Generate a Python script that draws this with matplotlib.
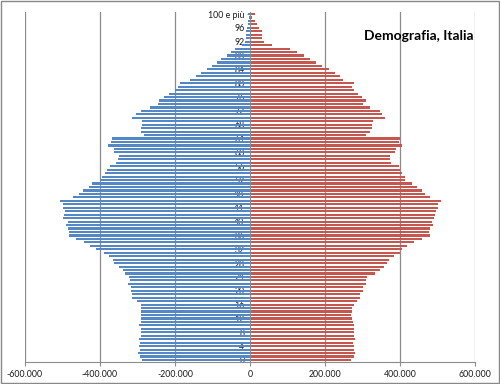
import matplotlib
matplotlib.use("Agg")
import matplotlib.pyplot as plt
from matplotlib.patches import Rectangle
from matplotlib.ticker import FuncFormatter
import numpy as np

ages = list(range(101))

# male population by age 0..100 (drawn as negative)
males = [287, 293, 298, 294, 295, 293, 295, 291, 292, 292,
         296, 291, 290, 291, 290, 291, 292, 301, 315, 315,
         317, 317, 325, 320, 323, 333, 340, 350, 362, 365,
         376, 390, 412, 426, 444, 465, 484, 482, 486, 490,
         485, 499, 495, 493, 499, 500, 506, 471, 455, 445,
         429, 421, 399, 395, 388, 381, 373, 358, 352, 350,
         362, 364, 380, 371, 369, 284, 291, 291, 289, 288,
         315, 305, 292, 266, 245, 243, 230, 217, 201, 192,
         188, 161, 145, 132, 116, 101, 87, 77, 62, 52,
         41, 21, 14, 12, 12, 10, 8, 6, 5, 3, 5]
# female population by age 0..100
females = [268, 276, 281, 277, 277, 275, 279, 276, 276, 276,
           277, 275, 273, 270, 272, 273, 276, 284, 294, 292,
           301, 301, 310, 308, 313, 332, 346, 356, 364, 371,
           385, 399, 404, 418, 437, 458, 479, 477, 479, 488,
           484, 491, 493, 497, 500, 502, 508, 479, 466, 458,
           444, 433, 412, 412, 405, 399, 396, 376, 372, 372,
           386, 388, 406, 396, 399, 310, 319, 326, 326, 328,
           361, 353, 346, 319, 302, 308, 298, 288, 278, 273,
           278, 249, 239, 226, 210, 192, 177, 161, 143, 124,
           106, 58, 36, 31, 31, 31, 25, 19, 12, 6, 12]
males = [-v * 1000 for v in males]
females = [v * 1000 for v in females]

ytick_ages = list(range(0, 97, 4)) + [100]
ytick_labels = [str(a) for a in range(0, 97, 4)] + ["100 e più"]
xticks = [-600000, -400000, -200000, 0, 200000, 400000, 600000]
title = "Demografia, Italia"

plt.rcParams['font.family'] = ['Lato', 'DejaVu Sans']

fig = plt.figure(figsize=(5.0, 3.84), dpi=100)
ax = fig.add_axes([0.05, 0.058, 0.90, 0.910])

blue = '#5487C4'
red = '#C4574F'
ax.barh(ages, males, height=0.62, color=blue, edgecolor='none', zorder=2)
ax.barh(ages, females, height=0.62, color=red, edgecolor='none', zorder=2)

ax.set_xlim(-600000, 600000)
ax.set_ylim(-0.5, 100.5)
ax.set_xticks(xticks)
ax.xaxis.set_major_formatter(FuncFormatter(lambda v, p: f"{int(v):,}".replace(",", ".")))
ax.set_yticks(ytick_ages)
ax.set_yticklabels(ytick_labels)

for x in xticks:
    if x != 0:
        ax.axvline(x, color='#8C8C8C', lw=0.9, zorder=1)

for s in ['top', 'right']:
    ax.spines[s].set_visible(False)
ax.spines['left'].set_position(('data', 0))
ax.spines['left'].set_color('#8C8C8C')
ax.spines['left'].set_zorder(3)
ax.spines['bottom'].set_color('#8C8C8C')
ax.tick_params(axis='x', length=3, color='#8C8C8C', labelsize=6.3, pad=3, labelcolor='#1a1a1a')
ax.tick_params(axis='y', length=2.5, color='#8C8C8C', labelsize=6.3, pad=1.5, labelcolor='#1a1a1a')
for lbl in ax.get_yticklabels():
    lbl.set_zorder(5)

fig.text(0.948, 0.905, title, ha='right', va='center', fontsize=10,
         fontweight='bold', color='black')

fig.patches.append(Rectangle((0.002, 0.003), 0.996, 0.994, transform=fig.transFigure,
                             fill=False, edgecolor='#888888', lw=1.0))

fig.savefig('out.png', dpi=100)
